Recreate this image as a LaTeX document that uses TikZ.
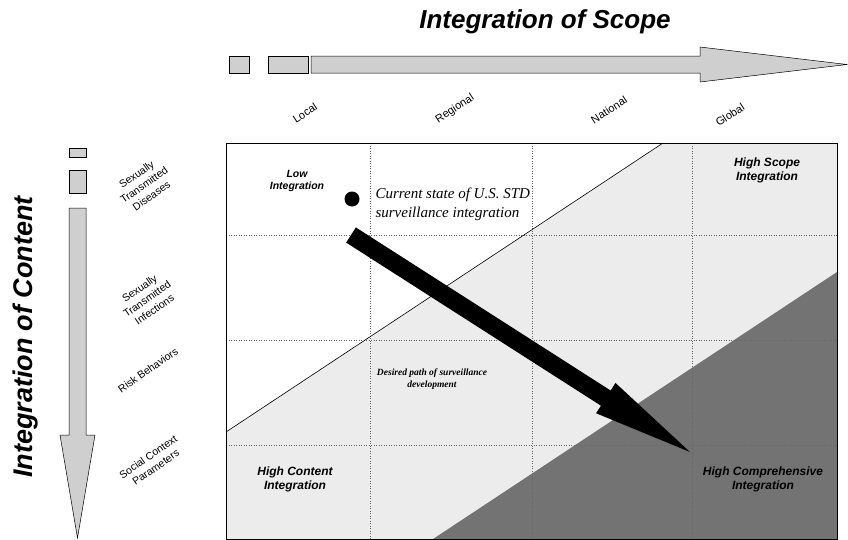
\documentclass[tikz,border=0pt]{standalone}
\usepackage{fontspec}
\setmainfont{Liberation Serif}
\setsansfont{Liberation Sans}
\usetikzlibrary{calc}

\begin{document}
\begin{tikzpicture}[x=1pt,y=-1pt,
	blockfill/.style={draw=black,line width=0.5pt,fill=gray!38},
	gridline/.style={black!60,dotted,line width=0.5pt},
	scopelab/.style={font=\sffamily\fontsize{11}{13}\selectfont,rotate=33},
	contentlab/.style={font=\sffamily\fontsize{10.5}{13}\selectfont,rotate=35,align=center},
	celllab/.style={font=\sffamily\bfseries\itshape\fontsize{12}{14}\selectfont,align=center},
	axistitle/.style={font=\sffamily\bfseries\itshape\fontsize{26}{30}\selectfont}]
	\useasboundingbox (0,0) rectangle (848,539);
	
	% shaded regions of the matrix
	\fill[white] (226,143) rectangle (837,539);
	\fill[gray!15] (226,432) -- (663,143) -- (837,143) -- (837,539) -- (226,539) -- cycle;
	\fill[black!55] (433,539) -- (837,272) -- (837,539) -- cycle;
	
	% grid
	\foreach \x in {370,532,692}{
		\draw[gridline] (\x,143)--(\x,539);
	}
	\foreach \y in {235,340,445}{
		\draw[gridline] (226,\y)--(837,\y);
	}
	\draw[line width=0.6pt] (226,432)--(663,143);
	\draw[line width=0.6pt] (226,143) rectangle (837,539);
	
	% axis titles
	\node[axistitle] (scopetitle) at (545,22) {Integration of Scope};
	\node[axistitle,font=\sffamily\bfseries\itshape\fontsize{27}{30}\selectfont,rotate=90] (contenttitle) at (26,337) {Integration of Content};
	
	% scope arrow
	\draw[blockfill] (229,56) rectangle (249,73);
	\draw[blockfill] (268,56) rectangle (308,73);
	\draw[blockfill] (311,56)--(700,56)--(700,47)--(847,64.5)--(700,82)--(700,73)--(311,73)--cycle;
	
	% content arrow
	\draw[blockfill] (69,148) rectangle (86,157);
	\draw[blockfill] (69,170) rectangle (86,193);
	\draw[blockfill] (69,208)--(86,208)--(86,435)--(95,435)--(77.5,538)--(60,435)--(69,435)--cycle;
	
	% scope levels
	\node[scopelab] (local) at (305,113) {Local};
	\node[scopelab] (regional) at (455,109) {Regional};
	\node[scopelab] (national) at (609,110) {National};
	\node[scopelab] (global) at (730,115) {Global};
	
	% content levels
	\node[contentlab] (std) at (144,185) {Sexually\\Transmitted\\Diseases};
	\node[contentlab] (sti) at (147,299) {Sexually\\Transmitted\\Infections};
	\node[contentlab] (risk) at (148,370) {Risk Behaviors};
	\node[contentlab] (social) at (152,462) {Social Context\\Parameters};
	
	% cell labels
	\node[celllab,font=\sffamily\bfseries\itshape\fontsize{10.5}{12}\selectfont] (low) at (297,181) {Low\\Integration};
	\node[celllab] (highscope) at (767,170) {High Scope\\Integration};
	\node[celllab] (highcontent) at (295,479) {High Content\\Integration};
	\node[celllab] (highcomp) at (763,479) {High Comprehensive\\Integration};
	\node[font=\bfseries\itshape\fontsize{9.5}{12}\selectfont,align=center] (desired) at (432,379) {Desired path of surveillance\\development};
	
	% current state and path
	\node[circle,fill=black,inner sep=0pt,minimum size=15pt] (now) at (352,199) {};
	\node[font=\itshape\fontsize{15}{19}\selectfont,align=left,anchor=west] (current) at (372,204) {Current state of U.S. STD\\surveillance integration};
	\coordinate (pathstart) at (351,235);
	\coordinate (goal) at (690,452);
	\coordinate (headbase) at ($(goal)!100pt!(pathstart)$);
	\fill[black] ($(pathstart)!9pt!90:(goal)$) -- ($(headbase)!9pt!-90:(pathstart)$)
		-- ($(headbase)!18pt!-90:(pathstart)$) -- (goal)
		-- ($(headbase)!18pt!90:(pathstart)$) -- ($(headbase)!9pt!90:(pathstart)$)
		-- ($(pathstart)!9pt!-90:(goal)$) -- cycle;
\end{tikzpicture}
\end{document}
